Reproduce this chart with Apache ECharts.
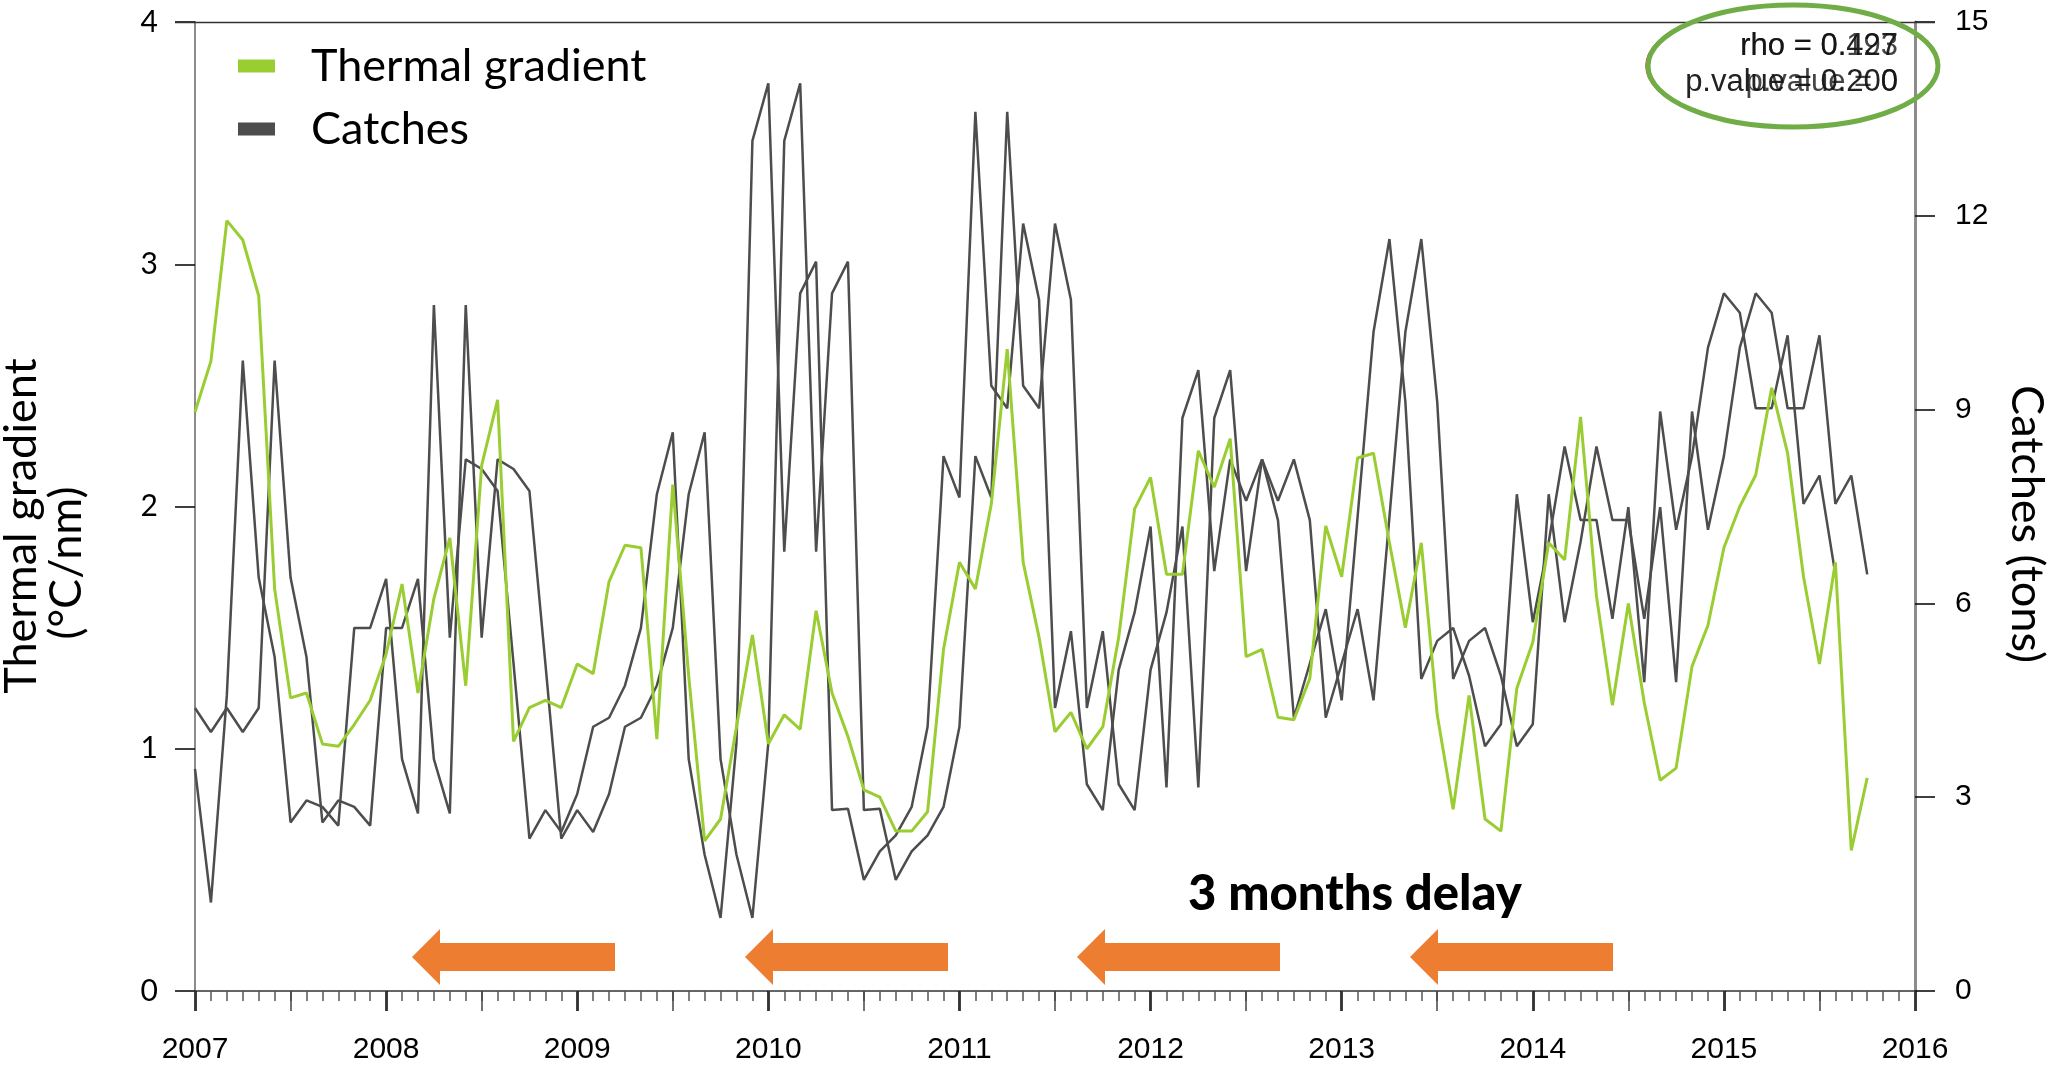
<!DOCTYPE html>
<html><head><meta charset="utf-8">
<script src="https://cdn.jsdelivr.net/npm/echarts@6/dist/echarts.min.js"></script>
<style>html,body{margin:0;padding:0;background:#fff}#c{width:2053px;height:1066px}</style>
</head><body><div id="c"></div>
<script>
// monthly series, first month = Jan 2007
const startYear = 2007;
const yearTicks = [2007, 2008, 2009, 2010, 2011, 2012, 2013, 2014, 2015, 2016];
const thermalTicks = [0, 1, 2, 3, 4];
const catchTicks = [0, 3, 6, 9, 12, 15];

const thermalGradient = [
 2.39,2.60,3.18,3.10,2.87,1.66,1.21,1.23,1.02,1.01,1.10,1.20,
 1.39,1.68,1.23,1.62,1.87,1.26,2.17,2.44,1.03,1.17,1.20,1.17,
 1.35,1.31,1.69,1.84,1.83,1.04,2.09,1.30,0.62,0.71,1.09,1.47,
 1.02,1.14,1.08,1.57,1.23,1.05,0.83,0.80,0.66,0.66,0.74,1.41,
 1.77,1.66,2.01,2.65,1.77,1.46,1.07,1.15,1.00,1.09,1.46,1.99,
 2.12,1.72,1.72,2.23,2.08,2.28,1.38,1.41,1.13,1.12,1.29,1.92,
 1.71,2.20,2.22,1.85,1.50,1.85,1.14,0.75,1.22,0.71,0.66,1.25,
 1.44,1.85,1.78,2.37,1.63,1.18,1.60,1.19,0.87,0.92,1.34,1.51,
 1.83,2.00,2.13,2.49,2.22,1.71,1.35,1.77,0.58,0.88];

const catches = [
 4.38,4.01,4.38,4.01,4.38,9.76,6.40,5.17,2.61,2.95,2.85,2.56,
 5.62,5.62,6.38,3.59,2.75,10.62,5.47,8.23,8.08,7.74,5.07,2.36,
 2.80,2.46,3.05,4.09,4.23,4.73,5.62,7.69,8.65,3.59,2.11,1.13,
 3.84,13.16,14.05,6.80,10.80,11.29,2.80,2.82,1.72,2.16,2.41,2.85,
 4.09,8.28,7.64,13.61,9.37,9.02,11.88,10.70,4.38,5.57,3.20,2.80,
 4.97,5.86,7.19,3.15,8.87,9.61,6.50,8.23,7.59,8.23,7.29,4.23,
 5.07,5.91,4.50,7.34,10.20,11.64,9.12,4.83,5.42,5.62,4.88,3.79,
 4.13,7.69,5.71,6.95,8.43,7.29,7.29,5.76,7.49,4.78,8.97,7.14,
 8.28,9.96,10.80,10.50,9.02,9.02,10.15,7.54,7.98,6.45];

const catchesShifted = [
 3.44,1.37,4.58,9.76,6.40,5.17,2.61,2.95,2.85,2.56,5.62,5.62,
 6.38,3.59,2.75,10.62,5.47,8.23,8.08,7.74,5.07,2.36,2.80,2.46,
 3.05,4.09,4.23,4.73,5.62,7.69,8.65,3.59,2.11,1.13,3.84,13.16,
 14.05,6.80,10.80,11.29,2.80,2.82,1.72,2.16,2.41,2.85,4.09,8.28,
 7.64,13.61,9.37,9.02,11.88,10.70,4.38,5.57,3.20,2.80,4.97,5.86,
 7.19,3.15,8.87,9.61,6.50,8.23,7.59,8.23,7.29,4.23,5.07,5.91,
 4.50,7.34,10.20,11.64,9.12,4.83,5.42,5.62,4.88,3.79,4.13,7.69,
 5.71,6.95,8.43,7.29,7.29,5.76,7.49,4.78,8.97,7.14,8.28,9.96,
 10.80,10.50,9.02,9.02,10.15,7.54,7.98,6.45];

const toXY = arr => arr.map((v, i) => [startYear + i / 12, v]);

const GREEN = '#9acd32', GRAY = '#4d4d4d', ORANGE = '#ed7d31';
const chart = echarts.init(document.getElementById('c'), null, {renderer: 'canvas'});

function arrow(tipX, tailX, cy) {
  const headLen = 28, headHalf = 28, bodyHalf = 14;
  return {
    type: 'polygon', z: 50,
    shape: {points: [[tipX, cy], [tipX + headLen, cy - headHalf], [tipX + headLen, cy - bodyHalf],
      [tailX, cy - bodyHalf], [tailX, cy + bodyHalf], [tipX + headLen, cy + bodyHalf], [tipX + headLen, cy + headHalf]]},
    style: {fill: ORANGE}
  };
}
const titleStyle = {fontFamily: 'Lato', fontSize: 45, fill: '#000', align: 'center', verticalAlign: 'middle'};

const option = {
  animation: false,
  backgroundColor: '#fff',
  grid: {left: 195, right: 138, top: 22, bottom: 75, containLabel: false, outerBoundsMode: 'none'},
  legend: {
    orient: 'vertical', left: 238, top: 41, itemWidth: 37, itemHeight: 13, itemGap: 13, padding: 0,
    icon: 'rect',
    textStyle: {fontFamily: 'Lato', fontSize: 45, color: '#000', lineHeight: 50, padding: [0, 0, 0, 31]},
    data: [{name: 'Thermal gradient', itemStyle: {color: GREEN}}, {name: 'Catches', itemStyle: {color: GRAY}}]
  },
  xAxis: [{
    type: 'value', min: yearTicks[0], max: yearTicks[yearTicks.length - 1], interval: 1,
    axisLine: {show: true, onZero: false, lineStyle: {color: '#333', width: 1.5}},
    axisTick: {show: true, inside: false, length: 20, lineStyle: {color: '#000', width: 2.5}},
    minorTick: {show: true, splitNumber: 12, length: 10, lineStyle: {color: '#555', width: 1.5}},
    axisLabel: {fontFamily: 'Liberation Sans', fontSize: 30, color: '#000', margin: 44, formatter: v => String(v)},
    splitLine: {show: false}
  }, {
    type: 'value', min: yearTicks[0], max: yearTicks[yearTicks.length - 1], interval: 0.5, position: 'bottom',
    axisLine: {show: false}, axisLabel: {show: false}, splitLine: {show: false},
    axisTick: {show: true, inside: false, length: 20, lineStyle: {color: '#444', width: 1.5}}
  }],
  yAxis: [{
    type: 'value', min: thermalTicks[0], max: thermalTicks[thermalTicks.length - 1], interval: 1, position: 'left',
    axisLine: {show: true, lineStyle: {color: '#8c8c8c', width: 2}},
    axisTick: {show: true, inside: false, length: 20, lineStyle: {color: '#000', width: 1.5}},
    axisLabel: {fontFamily: 'Lato', fontSize: 30, color: '#000', margin: 37},
    splitLine: {show: false}
  }, {
    type: 'value', min: catchTicks[0], max: catchTicks[catchTicks.length - 1], interval: 3, position: 'right',
    axisLine: {show: true, lineStyle: {color: '#8c8c8c', width: 3}},
    axisTick: {show: true, inside: false, length: 20, lineStyle: {color: '#000', width: 1.5}},
    axisLabel: {fontFamily: 'Liberation Sans', fontSize: 30, color: '#000', margin: 40},
    splitLine: {show: false}
  }],
  series: [{
    name: 'Thermal gradient', type: 'line', yAxisIndex: 0, symbol: 'none', z: 3,
    lineStyle: {color: GREEN, width: 3}, itemStyle: {color: GREEN},
    data: toXY(thermalGradient)
  }, {
    name: 'Catches', type: 'line', yAxisIndex: 1, symbol: 'none', z: 2,
    lineStyle: {color: GRAY, width: 2.5}, itemStyle: {color: GRAY},
    data: toXY(catches)
  }, {
    name: 'Catches (shifted)', type: 'line', yAxisIndex: 1, symbol: 'none', z: 2,
    lineStyle: {color: GRAY, width: 2.5}, itemStyle: {color: GRAY},
    data: toXY(catchesShifted)
  }],
  graphic: [
    {type: 'line', shape: {x1: 175, y1: 22.5, x2: 1935, y2: 22.5}, style: {stroke: '#333', lineWidth: 1.5}, z: 1},
    {type: 'text', x: 21, y: 526, rotation: Math.PI / 2, style: Object.assign({text: 'Thermal gradient'}, titleStyle)},
    {type: 'text', x: 66, y: 563, rotation: Math.PI / 2, style: Object.assign({text: '(°C/nm)'}, titleStyle)},
    {type: 'text', x: 2027, y: 524, rotation: -Math.PI / 2, style: Object.assign({text: 'Catches (tons)'}, titleStyle)},
    arrow(412, 615, 957), arrow(745, 948, 957), arrow(1077, 1280, 957), arrow(1410, 1613, 957),
    {type: 'text', x: 1355, y: 894, z: 50, style: {text: '3 months delay', fontFamily: 'Lato', fontWeight: 900, fontSize: 49, fill: '#000', align: 'center', verticalAlign: 'middle'}},
    {type: 'ellipse', z: 60, shape: {cx: 1792, cy: 66, rx: 146, ry: 61}, style: {fill: 'none', stroke: '#e02020', lineWidth: 1.5}},
    {type: 'ellipse', z: 61, shape: {cx: 1793, cy: 66, rx: 145, ry: 61}, style: {fill: 'none', stroke: '#70ad47', lineWidth: 5}},
    {type: 'text', x: 1898, y: 46, z: 62, style: {text: 'rho = 0.427', fontFamily: 'Liberation Sans', fontSize: 31, fill: '#222', align: 'right', verticalAlign: 'middle'}},
    {type: 'text', x: 1898, y: 46, z: 62, style: {text: 'rho = 0.193', fontFamily: 'Liberation Sans', fontSize: 31, fill: 'rgba(20,20,20,0.8)', align: 'right', verticalAlign: 'middle'}},
    {type: 'text', x: 1898, y: 82, z: 62, style: {text: 'p.value = 0.200', fontFamily: 'Liberation Sans', fontSize: 31, fill: '#222', align: 'right', verticalAlign: 'middle'}},
    {type: 'text', x: 1898, y: 82, z: 62, style: {text: 'p.value = 0', fontFamily: 'Liberation Sans', fontSize: 31, fill: 'rgba(20,20,20,0.8)', align: 'right', verticalAlign: 'middle'}}
  ]
};
chart.setOption(option);
</script></body></html>
